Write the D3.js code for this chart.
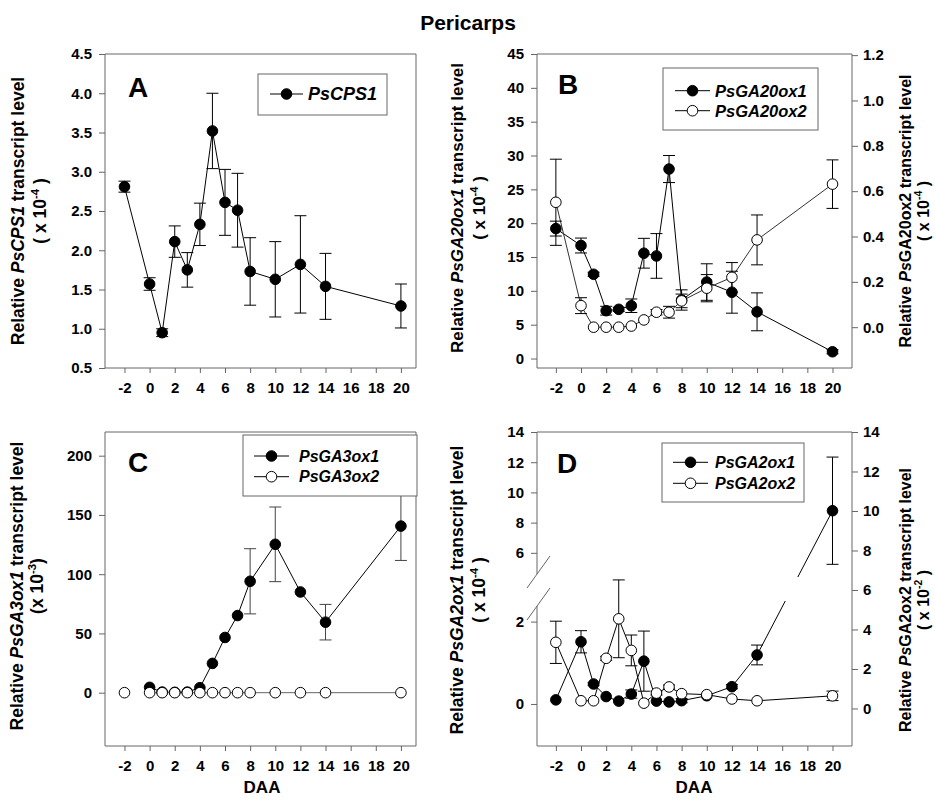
<!DOCTYPE html>
<html>
<head>
<meta charset="utf-8">
<script src="https://cdn.jsdelivr.net/npm/d3@7"></script>
<style>
  body { margin: 0; background: #fff; }
  svg { display: block; font-family: "Liberation Sans", Arial, Helvetica, sans-serif; font-weight: bold; }
</style>
</head>
<body>
<svg id="chart" width="935" height="801"></svg>
<script>
// sampling days, days after anthesis
var daa = [-2, 0, 1, 2, 3, 4, 5, 6, 7, 8, 10, 12, 14, 20];
var daaTicks = [-2, 0, 2, 4, 6, 8, 10, 12, 14, 16, 18, 20];

// A - PsCPS1
var cps1    = [2.81, 1.57, 0.95, 2.11, 1.75, 2.33, 3.52, 2.61, 2.51, 1.73, 1.63, 1.82, 1.54, 1.29];
var cps1Err = [0.07, 0.08, 0.05, 0.20, 0.22, 0.27, 0.48, 0.42, 0.47, 0.43, 0.48, 0.62, 0.42, 0.28];

// B - PsGA20ox1 (left axis), PsGA20ox2 (right axis)
var ga20ox1    = [19.2, 16.7, 12.45, 7.07, 7.27, 7.8, 15.56, 15.16, 28.0, 8.65, 11.3, 9.8, 6.9, 1.0];
var ga20ox1Err = [1.1, 1.1, 0.3, 0.65, 0.3, 1.0, 2.2, 3.3, 2.0, 1.5, 2.7, 3.1, 2.8, 0.3];
var ga20ox2    = [0.551, 0.095, 0, 0, 0, 0.005, 0.032, 0.066, 0.066, 0.116, 0.172, 0.22, 0.385, 0.631];
var ga20ox2Err = [0.19, 0.035, 0, 0, 0, 0, 0, 0.012, 0.026, 0.03, 0.06, 0.065, 0.11, 0.107];

// C - PsGA3ox1 starts at day 0, PsGA3ox2 stays at zero
var daaC       = [0, 1, 2, 3, 4, 5, 6, 7, 8, 10, 12, 14, 20];
var ga3ox1     = [4.5, 0.5, 0.3, 0.5, 4.2, 24.7, 46.6, 65.1, 94.0, 125.2, 85.0, 59.5, 140.6];
var ga3ox1Err  = [0, 0, 0, 0, 0, 0, 0, 0, 27.5, 31.5, 0, 15, 29];
var ga3ox2     = [0, 0, 0, 0, 0, 0, 0, 0, 0, 0, 0, 0, 0, 0];
var ga3ox2Err  = [0, 0, 0, 0, 0, 0, 0, 0, 0, 0, 0, 0, 0, 0];

// D - PsGA2ox1 (left, broken axis), PsGA2ox2 (right axis)
var ga2ox1    = [0.10, 1.51, 0.485, 0.18, 0.07, 0.24, 1.04, 0.07, 0.05, 0.08, 0.20, 0.42, 1.19, 8.79];
var ga2ox1Err = [0, 0.27, 0.03, 0, 0, 0.1, 0.73, 0, 0, 0.05, 0, 0.05, 0.24, 3.55];
var ga2ox2    = [3.35, 0.39, 0.39, 2.54, 4.54, 2.94, 0.27, 0.78, 1.09, 0.75, 0.70, 0.48, 0.39, 0.64];
var ga2ox2Err = [1.07, 0, 0, 0.1, 1.97, 0.78, 0, 0.1, 0.1, 0, 0, 0, 0, 0.24];

// axis ticks
var ticksA  = [0.5, 1.0, 1.5, 2.0, 2.5, 3.0, 3.5, 4.0, 4.5];
var ticksB  = [0, 5, 10, 15, 20, 25, 30, 35, 40, 45];
var ticksB2 = [0, 0.2, 0.4, 0.6, 0.8, 1.0, 1.2];
var ticksC  = [0, 50, 100, 150, 200];
var ticksD  = [0, 2, 6, 8, 10, 12, 14];
var ticksD2 = [0, 2, 4, 6, 8, 10, 12, 14];

var svg = d3.select("#chart");
var frameColor = "#666";
var H = 314;

svg.append("text")
    .attr("x", 468).attr("y", 30)
    .attr("text-anchor", "middle")
    .style("font-size", "21px")
    .text("Pericarps");

function tidyAxis(sel) {
  sel.attr("font-size", null).attr("font-family", null);
  sel.select(".domain").remove();
  sel.selectAll(".tick line").attr("stroke", frameColor);
  sel.selectAll(".tick text").attr("fill", "#000").style("font-size", "15px");
}

function drawPanel(p) {
  var g = svg.append("g").attr("transform", "translate(" + p.left + "," + p.top + ")");
  var w = p.width, h = H;
  var x = d3.scaleLinear().domain(p.xDomain).range([0, w]);
  var yL = d3.scaleLinear().domain(p.yDomain).range(p.yRange || [h, 0]);
  var yR = p.y2Domain ? d3.scaleLinear().domain(p.y2Domain).range([h, 0]) : null;

  var xa = g.append("g").attr("transform", "translate(0," + h + ")")
      .call(d3.axisBottom(x).tickValues(daaTicks).tickSize(5).tickPadding(9)
        .tickFormat(function(d) { return String(d); }));
  tidyAxis(xa);

  var ya = g.append("g")
      .call(d3.axisLeft(yL).tickValues(p.yTicks).tickSize(6).tickPadding(7).tickFormat(p.yFormat));
  tidyAxis(ya);

  if (yR) {
    var yra = g.append("g").attr("transform", "translate(" + w + ",0)")
        .call(d3.axisRight(yR).tickValues(p.y2Ticks).tickSize(6).tickPadding(5).tickFormat(p.y2Format));
    tidyAxis(yra);
  }

  // box round the plot, left side split when the axis is broken
  var frame = d3.path();
  if (p.axisGap) {
    frame.moveTo(0, p.axisGap[0]);
    frame.lineTo(0, 0); frame.lineTo(w, 0); frame.lineTo(w, h); frame.lineTo(0, h);
    frame.lineTo(0, p.axisGap[1]);
  } else {
    frame.rect(0, 0, w, h);
  }
  g.append("path").attr("d", frame.toString()).attr("fill", "none").attr("stroke", frameColor);

  if (p.axisGap) {
    p.axisGap.forEach(function(yy) {
      g.append("line")
          .attr("x1", -10).attr("y1", yy + 14).attr("x2", 13).attr("y2", yy - 18)
          .attr("stroke", frameColor);
    });
  }

  // clip so the lines vanish inside the axis break
  var clipId = "clip" + p.letter;
  var clip = g.append("clipPath").attr("id", clipId);
  if (p.breakBand) {
    clip.append("rect").attr("x", -20).attr("y", -20).attr("width", w + 40).attr("height", p.breakBand[0] + 20);
    clip.append("rect").attr("x", -20).attr("y", p.breakBand[1]).attr("width", w + 40).attr("height", h - p.breakBand[1] + 20);
  } else {
    clip.append("rect").attr("x", -20).attr("y", -20).attr("width", w + 40).attr("height", h + 40);
  }

  var series = p.series.map(function(s) {
    var y = s.axis === "right" ? yR : yL;
    var pts = s.x.map(function(d, i) { return { x: d, v: s.v[i], e: s.err[i] }; });
    return { s: s, y: y, pts: pts };
  });

  // lines
  series.forEach(function(d) {
    var line = d3.line().x(function(q) { return x(q.x); }).y(function(q) { return d.y(q.v); });
    g.append("path")
        .datum(d.pts.slice(d.s.lineFrom || 0))
        .attr("d", line)
        .attr("fill", "none")
        .attr("stroke", d.s.lineColor || "#000")
        .attr("stroke-width", 1)
        .attr("clip-path", "url(#" + clipId + ")");
  });

  // error bars
  series.forEach(function(d) {
    var eb = g.append("g").attr("stroke", d.s.errColor || "#000").attr("stroke-width", 1);
    d.pts.filter(function(q) { return q.e > 0; }).forEach(function(q) {
      var cx = x(q.x), y0 = d.y(q.v - q.e), y1 = d.y(q.v + q.e);
      eb.append("line").attr("x1", cx).attr("x2", cx).attr("y1", y0).attr("y2", y1);
      eb.append("line").attr("x1", cx - 6).attr("x2", cx + 6).attr("y1", y0).attr("y2", y0);
      eb.append("line").attr("x1", cx - 6).attr("x2", cx + 6).attr("y1", y1).attr("y2", y1);
    });
  });

  // markers
  series.forEach(function(d) {
    g.append("g").selectAll("circle")
      .data(d.pts)
      .enter().append("circle")
        .attr("cx", function(q) { return x(q.x); })
        .attr("cy", function(q) { return d.y(q.v); })
        .attr("r", 5.3)
        .attr("fill", d.s.filled ? "#000" : "#fff")
        .attr("stroke", "#000")
        .attr("stroke-width", 1);
  });

  // legend
  var L = p.legend;
  var lg = g.append("g").attr("transform", "translate(" + L.x + "," + L.y + ")");
  lg.append("rect").attr("width", L.w).attr("height", L.h).attr("fill", "#fff").attr("stroke", frameColor);
  p.series.forEach(function(s, i) {
    var ry = L.rowY[i];
    lg.append("line").attr("x1", L.lineX[0]).attr("x2", L.lineX[1]).attr("y1", ry).attr("y2", ry)
        .attr("stroke", "#000");
    lg.append("circle").attr("cx", (L.lineX[0] + L.lineX[1]) / 2).attr("cy", ry).attr("r", 5.3)
        .attr("fill", s.filled ? "#000" : "#fff").attr("stroke", "#000");
    lg.append("text").attr("x", L.textX).attr("y", ry).attr("dy", "0.36em")
        .style("font-style", "italic").style("font-size", L.fontSize + "px")
        .text(s.name);
  });

  // panel letter
  g.append("text").attr("x", p.letterPos[0]).attr("y", p.letterPos[1])
      .style("font-size", "28px").text(p.letter);
}

// two-line rotated axis title; parts are [text, italic]
function yTitle(x1, x2, cy, parts, open, exp, close, size) {
  var t1 = svg.append("text")
      .attr("transform", "translate(" + x1 + "," + cy + ") rotate(-90)")
      .attr("text-anchor", "middle")
      .style("font-size", size + "px");
  parts.forEach(function(pt) {
    t1.append("tspan").style("font-style", pt[1] ? "italic" : "normal").text(pt[0]);
  });
  var t2 = svg.append("text")
      .attr("transform", "translate(" + x2 + "," + cy + ") rotate(-90)")
      .attr("text-anchor", "middle")
      .style("font-size", size + "px");
  t2.append("tspan").text(open);
  t2.append("tspan").attr("dy", -7).style("font-size", (size * 0.65) + "px").text(exp);
  t2.append("tspan").attr("dy", 7).text(close);
}

drawPanel({
  letter: "A", left: 105, top: 54, width: 311,
  xDomain: [-3.55, 21.2], yDomain: [0.5, 4.5], yTicks: ticksA, yFormat: d3.format(".1f"),
  series: [{ name: "PsCPS1", x: daa, v: cps1, err: cps1Err, filled: true }],
  legend: { x: 153, y: 20, w: 129, h: 41, rowY: [20], lineX: [12, 45], textX: 50, fontSize: 18 },
  letterPos: [23, 43]
});

drawPanel({
  letter: "B", left: 537, top: 54, width: 315,
  xDomain: [-3.5, 21.55], yDomain: [-1.4, 45], yTicks: ticksB, yFormat: d3.format("d"),
  y2Domain: [-0.18, 1.205], y2Ticks: ticksB2, y2Format: d3.format(".1f"),
  series: [
    { name: "PsGA20ox1", x: daa, v: ga20ox1, err: ga20ox1Err, filled: true },
    { name: "PsGA20ox2", x: daa, v: ga20ox2, err: ga20ox2Err, filled: false, axis: "right", lineColor: "#333" }
  ],
  legend: { x: 126, y: 14, w: 155, h: 62, rowY: [22.7, 42.7], lineX: [12, 47], textX: 52, fontSize: 16.5 },
  letterPos: [21, 40]
});

drawPanel({
  letter: "C", left: 105, top: 432, width: 311,
  xDomain: [-3.55, 21.2], yDomain: [-45, 220], yTicks: ticksC, yFormat: d3.format("d"),
  series: [
    { name: "PsGA3ox1", x: daaC, v: ga3ox1, err: ga3ox1Err, filled: true, errColor: "#444" },
    // the day -2 sample is not joined to the rest in the original
    { name: "PsGA3ox2", x: daa, v: ga3ox2, err: ga3ox2Err, filled: false, lineFrom: 1, lineColor: "#666" }
  ],
  legend: { x: 138, y: 3, w: 174, h: 61, rowY: [21, 41.7], lineX: [11, 46], textX: 56, fontSize: 16 },
  letterPos: [23, 40]
});

drawPanel({
  letter: "D", left: 537, top: 432, width: 315,
  xDomain: [-3.5, 21.55],
  // broken axis: 0-2.5 stretched below the break, 4.4-14 above it
  yDomain: [-1.02, 2.5, 4.4, 14], yRange: [H, 169, 145, 0],
  yTicks: ticksD, yFormat: d3.format("d"),
  y2Domain: [-1.9, 14], y2Ticks: ticksD2, y2Format: d3.format("d"),
  breakBand: [145, 169], axisGap: [142, 174],
  series: [
    { name: "PsGA2ox1", x: daa, v: ga2ox1, err: ga2ox1Err, filled: true },
    { name: "PsGA2ox2", x: daa, v: ga2ox2, err: ga2ox2Err, filled: false, axis: "right" }
  ],
  legend: { x: 125, y: 11, w: 142, h: 59, rowY: [19.3, 40.3], lineX: [11, 46], textX: 53, fontSize: 16 },
  letterPos: [20, 41]
});

// axis titles
yTitle(24, 46, 211, [["Relative ", false], ["PsCPS1", true], [" transcript level", false]], "( x 10", "-4", " )", 17.5);
yTitle(463, 485, 208, [["Relative ", false], ["PsGA20ox1", true], [" transcript level", false]], "( x 10", "-4", " )", 17);
yTitle(911, 929, 211, [["Relative ", false], ["Ps", true], ["GA20ox2 transcript level", false]], "( x 10", "-4", " )", 16);
yTitle(23, 43, 586, [["Relative ", false], ["PsGA3ox1", true], [" transcript level", false]], "(x 10", "-3", ")", 17.5);
yTitle(463, 485, 590, [["Relative ", false], ["PsGA2ox1", true], [" transcript level", false]], "( x 10", "-4", " )", 17.5);
yTitle(911, 929, 600, [["Relative ", false], ["Ps", true], ["GA2ox2 transcript level", false]], "( x 10", "-2", " )", 16);

svg.append("text").attr("x", 262).attr("y", 793).attr("text-anchor", "middle").style("font-size", "17px").text("DAA");
svg.append("text").attr("x", 694).attr("y", 793).attr("text-anchor", "middle").style("font-size", "17px").text("DAA");
</script>
</body>
</html>
